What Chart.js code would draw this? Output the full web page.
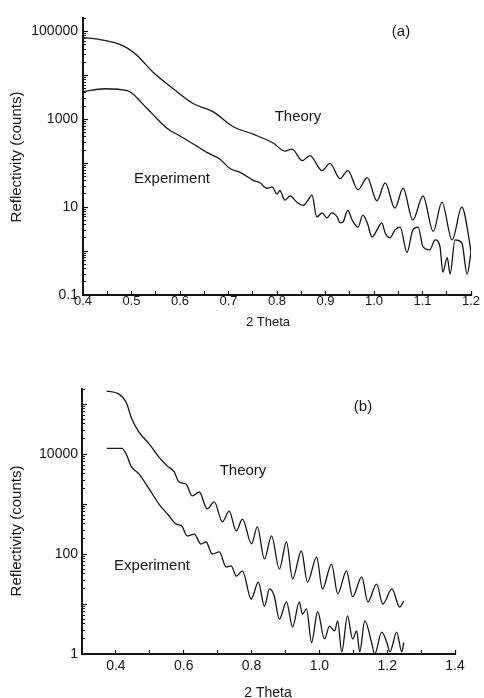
<!DOCTYPE html>
<html><head><meta charset="utf-8">
<script src="https://cdn.jsdelivr.net/npm/chart.js@4.4.1/dist/chart.umd.min.js"></script>
<style>
html,body{margin:0;padding:0;background:#fff;width:484px;height:698px;overflow:hidden}
canvas{position:absolute;left:0}
#ca{top:0}
#cb{top:340px}
</style></head><body>
<canvas id="ca" width="484" height="340"></canvas>
<canvas id="cb" width="484" height="358"></canvas>
<script>
// ---------- Panel (a) ----------
const thetaTheoryA = [0.400,0.435,0.482,0.511,0.544,0.586,0.627,0.668,0.709,0.751,0.792,0.816,0.831,0.852,0.868,0.893,0.909,0.930,0.946,0.967,0.986,1.006,1.023,1.043,1.060,1.080,1.101,1.122,1.140,1.161,1.181,1.197,1.200];
const theoryA = [73000,66000,48000,29000,12000,5000,2300,1500,690,460,290,190,210,115,150,68,100,45,68,25,47,14,36,9.5,27,5.1,18,2.8,13,1.8,10,1.6,0.9];
const thetaExpA = [0.400,0.445,0.491,0.503,0.524,0.544,0.573,0.600,0.635,0.656,0.682,0.703,0.724,0.751,0.765,0.779,0.790,0.800,0.806,0.816,0.827,0.841,0.854,0.864,0.872,0.882,0.893,0.903,0.913,0.924,0.930,0.936,0.946,0.955,0.967,0.977,0.986,0.996,1.006,1.016,1.023,1.033,1.043,1.054,1.068,1.080,1.091,1.101,1.115,1.126,1.136,1.142,1.151,1.157,1.167,1.181,1.192,1.200];
const expA = [4300,5000,4500,3800,2200,1300,630,420,245,175,125,76,62,41,36,27,29,20,24,14.5,18,13,11,14.5,19,6,7.4,5.7,7.4,6,4.4,4.6,8.5,5.1,3.5,6.6,4.4,2.1,3.0,4.4,2.6,2.0,3.0,3.5,0.93,3.0,3.5,1.26,1.07,1.8,1.26,0.33,0.71,0.30,1.8,1.55,0.30,0.93];
const xTicksA = [0.4,0.45,0.5,0.55,0.6,0.65,0.7,0.75,0.8,0.85,0.9,0.95,1.0,1.05,1.1,1.15,1.2];
const xLabelsA = ['0.4','','0.5','','0.6','','0.7','','0.8','','0.9','','1.0','','1.1','','1.2'];
const yTicksA = [0.1,1,10,100,1000,10000,100000];
const yLabelsA = ['0.1','','10','','1000','','100000'];

// ---------- Panel (b) ----------
const thetaTheoryB = [0.373,0.409,0.430,0.447,0.468,0.498,0.527,0.551,0.572,0.586,0.607,0.625,0.646,0.669,0.690,0.714,0.734,0.755,0.773,0.800,0.817,0.838,0.859,0.882,0.903,0.921,0.947,0.965,0.992,1.009,1.036,1.054,1.080,1.098,1.125,1.143,1.169,1.187,1.214,1.237,1.249];
const theoryB = [182000,158000,110000,50000,27500,16000,8700,5800,4400,2750,2500,1450,1740,800,1100,440,720,290,500,160,350,80,230,50,174,32,115,27.5,87,20,63,16,46,14,35,11,25,10,20,8.7,11.5];
const thetaExpB = [0.373,0.418,0.433,0.444,0.468,0.498,0.527,0.557,0.577,0.595,0.610,0.631,0.651,0.666,0.684,0.705,0.725,0.740,0.755,0.773,0.799,0.820,0.838,0.853,0.867,0.882,0.903,0.921,0.941,0.950,0.962,0.977,0.995,1.015,1.030,1.045,1.054,1.066,1.083,1.098,1.110,1.119,1.134,1.154,1.163,1.184,1.199,1.208,1.228,1.243,1.249];
const expB = [13000,13000,9100,5800,4000,2000,1000,575,400,360,230,250,158,174,100,110,55,58,36,46,12.6,27.5,9,20,14.5,5,11,3.5,11,6.3,8,1.7,7,2,3.6,2.9,4.6,1.1,5.8,2,2.9,1.1,4.6,1.7,1.0,2.75,1.7,1.1,2.75,1.1,1.7];
const xTicksB = [0.3,0.4,0.5,0.6,0.7,0.8,0.9,1.0,1.1,1.2,1.3,1.4];
const xLabelsB = ['','0.4','','0.6','','0.8','','1.0','','1.2','','1.4'];
const yTicksB = [1,10,100,1000,10000,100000];
const yLabelsB = ['1','','100','','10000',''];

const FONT = "'Liberation Sans', Arial, Helvetica, sans-serif";
const INK = '#151515';

function minorTicks(lo, hi) {
  const out = [];
  for (let d = lo; d < hi; d *= 10) {
    for (let m = 2; m <= 9; m++) { const v = +(m * d).toPrecision(3); if (v <= hi) out.push(v); }
  }
  return out;
}
function pts(xs, ys) { return xs.map((x, i) => ({ x: x, y: ys[i] })); }

const textPlugin = {
  id: 'texts',
  afterDraw(chart, args, opts) {
    const ctx = chart.ctx;
    (opts.items || []).forEach(it => {
      ctx.save();
      ctx.fillStyle = INK;
      ctx.font = it.font;
      ctx.textAlign = 'center';
      ctx.textBaseline = 'middle';
      ctx.translate(it.x, it.y);
      if (it.rot) ctx.rotate(-Math.PI / 2);
      ctx.fillText(it.text, 0, 0);
      ctx.restore();
    });
  }
};

function build(id, o) {
  const line = (d) => ({ data: d, borderColor: INK, borderWidth: 1.3, pointRadius: 0, fill: false, cubicInterpolationMode: 'monotone' });
  return new Chart(document.getElementById(id), {
    type: 'line',
    data: { datasets: [line(o.theory), line(o.exp)] },
    options: {
      responsive: false, animation: false, events: [],
      layout: { padding: { top: o.padTop, right: o.padRight, left: 0, bottom: 0 } },
      plugins: { legend: { display: false }, tooltip: { enabled: false }, texts: { items: o.texts } },
      scales: {
        x: {
          type: 'linear', min: o.xMin, max: o.xMax,
          afterFit: s => { s.height = o.xH; },
          afterBuildTicks: s => { s.ticks = o.xTicks.map(v => ({ value: v })); },
          ticks: { autoSkip: false, maxRotation: 0, padding: o.xPad, color: INK, font: { family: FONT, size: o.xFont },
                   callback: (v, i) => o.xLabels[i] },
          grid: { drawOnChartArea: false, tickLength: -4, color: INK, tickWidth: 1.2 },
          border: { color: INK, width: 2 }
        },
        y: {
          type: 'logarithmic', position: 'left', weight: 1, min: o.yMin, max: o.yMax,
          afterFit: s => { s.width = o.yW; },
          afterBuildTicks: s => { s.ticks = o.yTicks.map(v => ({ value: v })); },
          ticks: { autoSkip: false, padding: o.yPad, color: INK, font: { family: FONT, size: 14 },
                   callback: (v, i) => o.yLabels[i] },
          grid: { drawOnChartArea: false, tickLength: -5, color: INK, tickWidth: 1.2 },
          border: { color: INK, width: 2 }
        },
        yMinor: {
          type: 'logarithmic', position: 'left', weight: 0, min: o.yMin, max: o.yMax,
          afterFit: s => { s.width = 0; },
          afterBuildTicks: s => { s.ticks = minorTicks(o.yMin, o.yMax).map(v => ({ value: v })); },
          ticks: { display: false },
          grid: { drawOnChartArea: false, tickLength: -3, color: INK, tickWidth: 1 },
          border: { display: false }
        }
      }
    },
    plugins: [textPlugin]
  });
}

const F15 = "15px " + FONT;
build('ca', {
  theory: pts(thetaTheoryA, theoryA), exp: pts(thetaExpA, expA),
  xMin: 0.4, xMax: 1.2, yMin: 0.1, yMax: 200000,
  xTicks: xTicksA, xLabels: xLabelsA, yTicks: yTicksA, yLabels: yLabelsA,
  padTop: 15, padRight: 13, yW: 83, xH: 45, xPad: 3, yPad: 10, xFont: 13,
  texts: [
    { text: '(a)', x: 401, y: 32, font: F15 },
    { text: 'Theory', x: 298, y: 117, font: F15 },
    { text: 'Experiment', x: 172, y: 179, font: F15 },
    { text: 'Reflectivity (counts)', x: 17, y: 157, rot: true, font: F15 },
    { text: '2 Theta', x: 268, y: 322, font: "13px " + FONT }
  ]
});
build('cb', {
  theory: pts(thetaTheoryB, theoryB), exp: pts(thetaExpB, expB),
  xMin: 0.3, xMax: 1.4, yMin: 1, yMax: 200000,
  xTicks: xTicksB, xLabels: xLabelsB, yTicks: yTicksB, yLabels: yLabelsB,
  padTop: 49, padRight: 29, yW: 82, xH: 44, xPad: 8, yPad: 9, xFont: 14,
  texts: [
    { text: '(b)', x: 363, y: 67, font: F15 },
    { text: 'Theory', x: 243, y: 131, font: F15 },
    { text: 'Experiment', x: 152, y: 226, font: F15 },
    { text: 'Reflectivity (counts)', x: 17, y: 191, rot: true, font: F15 },
    { text: '2 Theta', x: 268, y: 353, font: "14px " + FONT }
  ]
});
</script>
</body></html>
